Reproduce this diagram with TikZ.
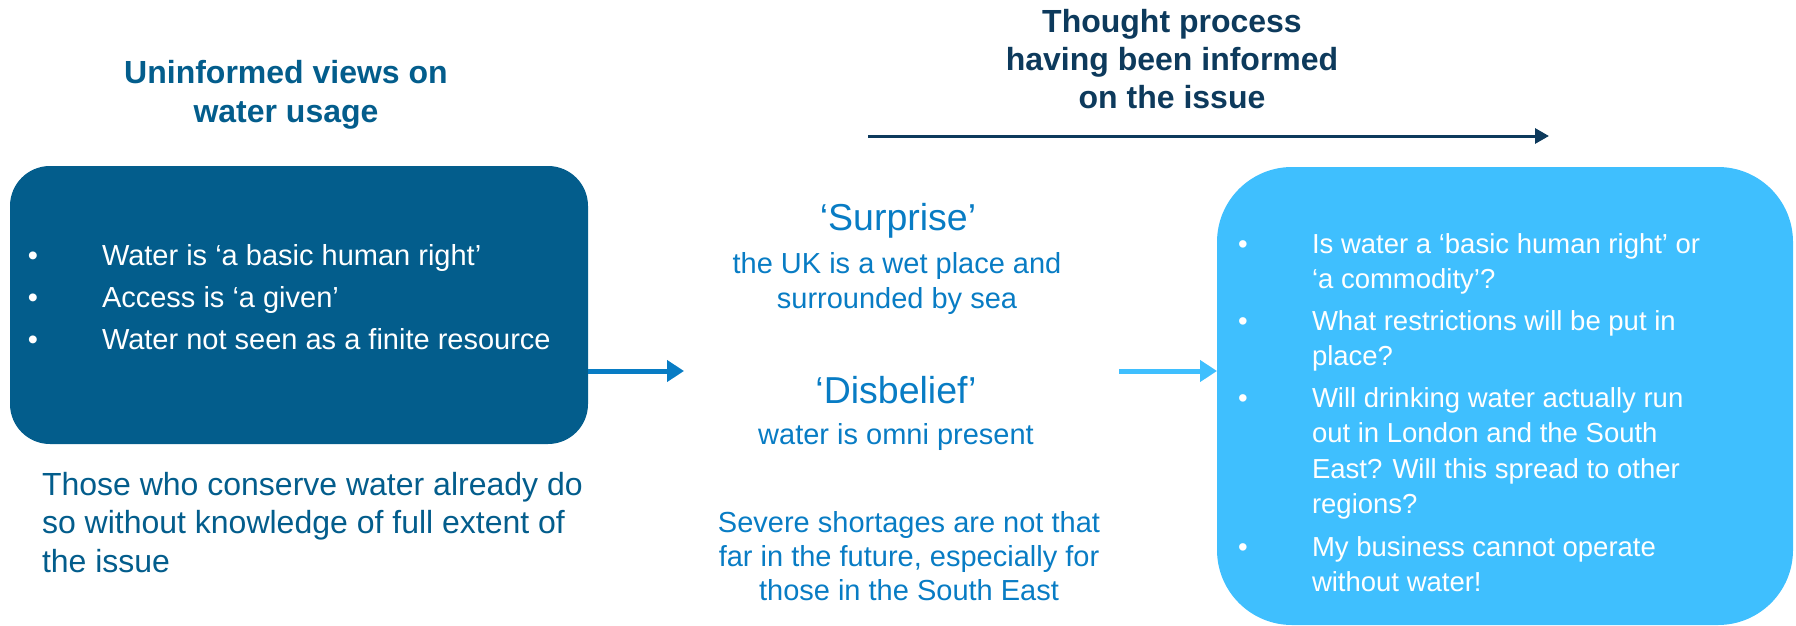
\documentclass[tikz,border=0pt]{standalone}
\usepackage{fontspec}
\setmainfont{Liberation Sans}
\usetikzlibrary{arrows.meta}
\definecolor{darkbox}{RGB}{3,93,140}
\definecolor{navy}{RGB}{13,58,92}
\definecolor{midblue}{RGB}{8,124,196}
\definecolor{lightbox}{RGB}{63,191,254}
\begin{document}
\begin{tikzpicture}[x=1pt,y=-1pt,
  txt/.style={inner sep=0pt, outer sep=0pt, anchor=base west, align=left},
  ctxt/.style={inner sep=0pt, outer sep=0pt, anchor=base, align=center},
  bul/.style={inner sep=0pt, outer sep=0pt, anchor=base, text=white},
  boxfont/.style={font=\fontsize{29pt}{42pt}\selectfont},
  rboxfont/.style={font=\fontsize{27.5pt}{35.5pt}\selectfont},
  titlefont/.style={font=\fontsize{32pt}{39pt}\selectfont\bfseries},
  bigfont/.style={font=\fontsize{37.5pt}{44pt}\selectfont},
  midfont/.style={font=\fontsize{29pt}{35pt}\selectfont},
  arrowone/.style={draw=midblue, line width=5pt, -{Triangle[length=17pt,width=21pt]}},
  arrowtwo/.style={draw=lightbox, line width=5pt, -{Triangle[length=17pt,width=21pt]}},
  toparrow/.style={draw=navy, line width=3pt, -{Triangle[length=14pt,width=15pt]}}
]
\useasboundingbox (0,0) rectangle (1796,626);

% boxes
\node[fill=darkbox, rounded corners=40pt, minimum width=578pt, minimum height=278pt,
      inner sep=0pt, outer sep=0pt, anchor=north west] (lbox) at (10,166) {};
\node[fill=lightbox, rounded corners=75pt, minimum width=576pt, minimum height=458pt,
      inner sep=0pt, outer sep=0pt, anchor=north west] (rbox) at (1217,167) {};

% titles (anchor = baseline of the last line)
\node[ctxt, titlefont, text=darkbox] (ltitle) at (286,122) {Uninformed views on\\water usage};
\node[ctxt, text=navy, font=\fontsize{32pt}{38pt}\selectfont\bfseries] (ttitle) at (1172,108)
  {Thought process\\having been informed\\on the issue};

% top arrow
\coordinate (ta) at (868,136);
\coordinate (tb) at (1549,136);
\draw[toparrow] (ta) -- (tb);

% left box content
\node[bul, boxfont] (lb1) at (33,265) {•};
\node[bul, boxfont] (lb2) at (33,307) {•};
\node[bul, boxfont] (lb3) at (33,349) {•};
\node[txt, boxfont, text=white] (ltext) at (102,349)
  {Water is ‘a basic human right’\\Access is ‘a given’\\Water not seen as a finite resource};

% left bottom text
\node[txt, text=darkbox, font=\fontsize{32pt}{38.5pt}\selectfont] (lnote) at (42,572)
  {Those who conserve water already do\\so without knowledge of full extent of\\the issue};

% middle texts
\node[ctxt, bigfont, text=midblue] (surp) at (898,230) {‘Surprise’};
\node[ctxt, midfont, text=midblue] (surpt) at (897,308) {the UK is a wet place and\\surrounded by sea};
\node[ctxt, bigfont, text=midblue] (disb) at (896,403) {‘Disbelief’};
\node[ctxt, midfont, text=midblue] (disbt) at (896,444) {water is omni present};
\node[ctxt, text=midblue, font=\fontsize{29pt}{34pt}\selectfont] (sev) at (909,600)
  {Severe shortages are not that\\far in the future, especially for\\those in the South East};

% arrows
\coordinate (a1) at (684,371);
\coordinate (a2) at (1119,371);
\draw[arrowone] (lbox.east |- a1) -- (a1);
\draw[arrowtwo] (a2) -- (rbox.west |- a2);

% right box content
\node[bul, rboxfont] (rb1) at (1243,253) {•};
\node[bul, rboxfont] (rb2) at (1243,330) {•};
\node[bul, rboxfont] (rb3) at (1243,407) {•};
\node[bul, rboxfont] (rb4) at (1243,556) {•};
\node[txt, rboxfont, text=white] (r1) at (1312,288.5) {Is water a ‘basic human right’ or\\‘a commodity’?};
\node[txt, rboxfont, text=white] (r2) at (1312,365.5) {What restrictions will be put in\\place?};
\node[txt, rboxfont, text=white] (r3) at (1312,513.5) {Will drinking water actually run\\out in London and the South\\East? Will this spread to other\\regions?};
\node[txt, rboxfont, text=white] (r4) at (1312,591.5) {My business cannot operate\\without water!};
\end{tikzpicture}
\end{document}
